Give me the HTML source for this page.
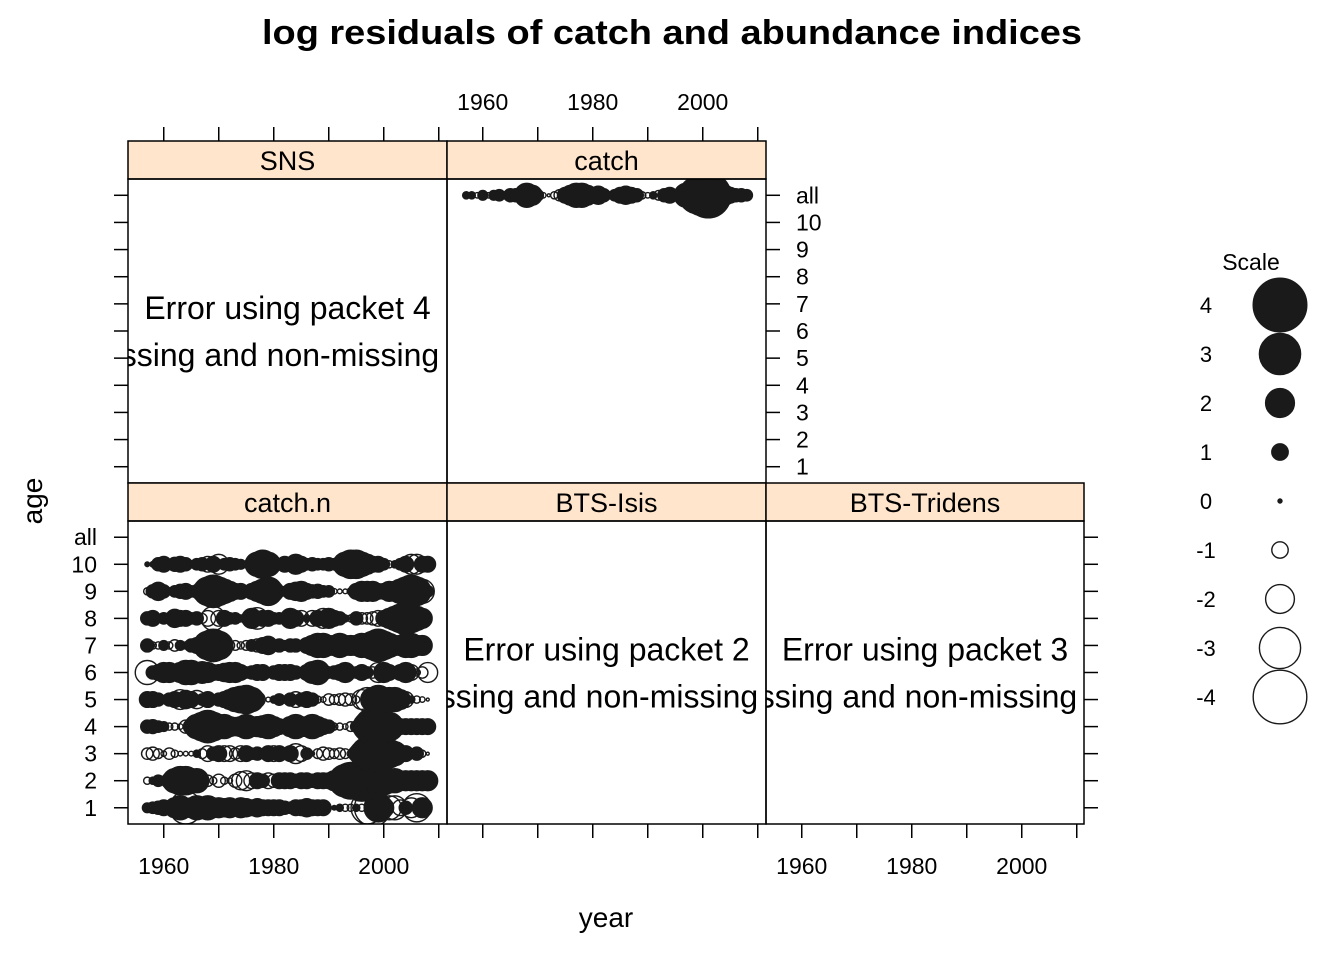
<!DOCTYPE html>
<html><head><meta charset="utf-8"><style>
body{margin:0;background:#fff}
svg{display:block;font-family:"Liberation Sans",Arial,sans-serif}
</style></head><body>
<svg id="chart" width="1344" height="960" viewBox="0 0 1344 960">
<defs>
<clipPath id="cpSNS"><rect x="128" y="179" width="319" height="304"/></clipPath>
<clipPath id="cpCatch"><rect x="447" y="179" width="319" height="304"/></clipPath>
<clipPath id="cpCN"><rect x="128" y="521" width="319" height="303"/></clipPath>
<clipPath id="cpIsis"><rect x="447" y="521" width="319" height="303"/></clipPath>
<clipPath id="cpTri"><rect x="766" y="521" width="318" height="303"/></clipPath>
</defs>
<text x="672" y="44" text-anchor="middle" font-size="34" font-weight="bold" textLength="820" lengthAdjust="spacingAndGlyphs">log residuals of catch and abundance indices</text>
<text x="606" y="927" text-anchor="middle" font-size="28">year</text>
<text x="0" y="0" transform="translate(42,501) rotate(-90)" text-anchor="middle" font-size="28">age</text>
<g id="panels"></g>
<g id="legend"></g>
</svg>
<script>
const years = [];
for (let y = 1957; y <= 2008; y++) years.push(y);
const yearTicks = [1960, 1970, 1980, 1990, 2000, 2010];
const yearTickLabels = [1960, 1980, 2000];
const ageCats = ['1','2','3','4','5','6','7','8','9','10','all'];
const legendValues = [4,3,2,1,0,-1,-2,-3,-4];

const catchAll = [0.5,0.5,-0.3,0.8,-0.3,0.8,1,-0.5,1.2,1.2,1.5,2.5,2,1,-0.3,0,-0.5,-1,1.5,2,2.5,2.5,2,1.5,1.8,1.2,-0.5,1,1.5,1.8,1.5,1.2,-0.5,-0.3,0.5,-0.8,1.2,1.5,-1,1.2,2.5,3,4,4.5,5,3.5,2,2,1.5,1.2,1.2,1];
const age1 = [0.8,1,1.2,1.5,-0.5,2,2.5,-3.5,2,2.5,-1.5,2.5,2,2,1.8,2,1.5,2,1.8,1.5,1.8,1.5,1.5,1.5,1.5,1.2,1,1.5,1.5,1.8,1.5,1.5,1.5,-0.3,0.2,0.5,-0.5,-0.5,0.5,-0.5,-3.5,-4,3,2,-2.5,-2.5,-1.5,1.2,-2,-3,2,-0.5];
const age2 = [-0.5,0.5,1,0.3,1.5,2.5,3,3,2.5,2.5,-0.3,-1,-0.5,-1.2,-0.5,-0.3,-1.2,-1.8,-2,-1.5,1.5,1.2,-1.5,-1.2,1.5,1.5,1.5,1.2,1.5,1.5,1.2,1.5,1.5,1.5,2,2.5,3.5,4,4,4.5,4,3.5,3,3,2.5,2.5,2,2,2,2,2,2];
const age3 = [-1,-1.2,-0.8,-0.3,-1,-0.5,-0.2,-0.2,-0.2,0.5,-0.8,-1.5,1.2,1.5,-1.5,-1.5,-1,-1.5,1.5,-1,1.2,-0.8,1.5,-1.5,1.5,1,1.5,-2,-1.5,1,0.2,-0.8,-1.2,-1,-0.8,-1,-0.8,-0.5,-1.5,2.5,3.5,4,4,3.5,3,2.5,1.5,1.5,-0.5,1.2,-0.5,0];
const age4 = [1.2,1.3,1,0.8,-0.5,-0.5,-0.3,-1.2,1.5,2.5,3,3.5,3,2.5,2.5,2,1.8,2,2.5,2,2,2.2,2.5,2,1.5,1,2,2.5,2,2,2.5,2,1.5,1.2,-0.5,-0.5,-0.3,-0.8,1,1.5,3,4,4,3.5,3,2,1.5,1.5,1.5,1.5,1.5,1.5];
const age5 = [1.5,1.5,1.2,-0.5,1.2,1.5,-2,1.8,1.5,-1.8,1,1.5,-0.5,1.2,1.5,2,2.5,2.8,3,2.5,-1.5,-0.3,-0.2,0.5,1,-0.5,1.2,-1.5,1.2,1.5,1.2,-0.5,-0.3,-1,-0.8,-1,-1.2,-1,-0.5,-2,-2.5,2.5,3,2.5,-2.5,2.5,2,-1.5,0.5,-0.5,-0.3,0];
const age6 = [-2.5,1.2,1.5,2,2,1.5,2,2.5,2.5,2,2.2,2,1.5,1.5,1.8,2,2,1.5,1,1.2,1.5,1.5,-0.5,1.2,1.5,1.5,1.5,1.2,-0.5,1.5,2.2,2.5,1.5,1,1.2,1.5,2,-0.5,-1,1.5,1,-1,-2,2,1.5,-0.5,1.5,2,-1.5,-0.5,-1,-2];
const age7 = [1.2,-0.5,-0.5,0.8,-0.5,-1,0.8,-0.5,1.2,1.5,2,3,3.5,3,-1,-0.8,-0.8,-0.5,-0.8,1,-1.2,1.5,1.8,-0.5,1.2,-0.8,1.2,1.2,-0.5,1.5,2,2.5,2.5,2,2,2.5,2,2,2,2.5,2.5,3,3.5,3,2.5,-2,2,2.5,2.5,2,2,-0.5];
const age8 = [1.2,1.5,-0.5,1,-0.5,1.8,-1.5,1.5,-1,1.2,-0.8,-1.5,-2.5,-1.5,1.5,1,1,0.5,-0.5,2,-2.2,1.5,1.5,1,1,-1,2,1.5,-1.5,0.5,-1.5,1.5,-2,2,-1.5,1.2,0.5,-0.5,1.2,-1,-1,-1.2,-1.5,1.5,-2,2.5,3,3.5,3,2.5,2,-0.5];
const age9 = [-0.5,1.2,1.8,1.2,-0.5,1,1.3,1.5,1,1.2,2,3,3.5,3,2.5,2,1.5,1.5,-0.5,1.5,2,2.5,3,2,-0.5,-0.8,1.5,1.8,2,1.5,1.2,1.3,1,1,-0.3,-0.2,-0.2,0.5,1.5,2,2,2,1.5,1.5,2,2,2.5,3,3.5,3,-2.5,1];
const age10 = [0.2,0.3,1.2,1.5,-0.5,1.3,1.5,1.2,-0.5,1,1.2,-1.5,1.5,-2,1,1.2,1,0.8,-0.5,1,2.5,3,2.5,1.5,-0.8,1.5,-1,2,1.5,1,1.2,1,1,1.2,1,1.5,2.5,3,3,2.5,2,1.5,1.5,1,-0.5,0.5,1,1.5,-2,-2,1.5,1.5];
const catchNRows = [age1,age2,age3,age4,age5,age6,age7,age8,age9,age10];

const NS = 'http://www.w3.org/2000/svg';
const root = document.getElementById('panels');
function mk(tag, attrs, parent){const e=document.createElementNS(NS,tag);for(const k in attrs)e.setAttribute(k,attrs[k]);(parent||root).appendChild(e);return e;}
function rad(v){return 2+6.2*Math.abs(v);}
function prad(v){return 1.5+4.2*Math.abs(v);}
function xScale(left){return yr=>left+(yr-1953.5)*5.5;}
function yScale(top,h){return k=>top+(11.6-k)/11.2*h;}

const panels = [
 {name:'SNS',x:128,y:141,w:319,clip:'cpSNS',err:'Error using packet 4',errX:87},
 {name:'catch',x:447,y:141,w:319,clip:'cpCatch'},
 {name:'catch.n',x:128,y:483,w:319,clip:'cpCN'},
 {name:'BTS-Isis',x:447,y:483,w:319,clip:'cpIsis',err:'Error using packet 2',errX:406},
 {name:'BTS-Tridens',x:766,y:483,w:318,clip:'cpTri',err:'Error using packet 3',errX:725}
];
const stripH=38;

panels.forEach(p=>{
  const g=mk('g',{});
  
  
  const top=p.y+stripH, h=(p.y<300?304:303);
  const strip=mk('rect',{x:p.x,y:p.y,width:p.w,height:stripH,fill:'#ffe5cc',stroke:'#000','stroke-width':1.5},g);
  
  
  const st=mk('text',{x:p.x+p.w/2,y:p.y+29,'text-anchor':'middle','font-size':27},g);
  st.textContent=p.name;
  
  
  const xs=xScale(p.x), ys=yScale(top,h);
  if(p.err){
    const cg=mk('g',{'clip-path':'url(#'+p.clip+')'},g);
    const cy=top+h/2;
    const t1=mk('text',{x:p.x+p.w/2,y:cy-12,'text-anchor':'middle','font-size':32},cg);
    t1.textContent=p.err;
    
    
    const t2=mk('text',{x:p.errX,y:cy+35,'font-size':32},cg);
    t2.textContent="missing and non-missing 'x' values";
    
    
  }
  const bg=mk('g',{'clip-path':'url(#'+p.clip+')'},g);
  function bubble(yr,k,v){
    const c=mk('circle',{cx:xs(yr),cy:ys(k),r:prad(v),fill:v>0?'#1a1a1a':'none',stroke:'#1a1a1a','stroke-width':1.4},bg);
    
    
  }
  if(p.name==='catch'){years.forEach((yr,i)=>bubble(yr,11,catchAll[i]));}
  if(p.name==='catch.n'){catchNRows.forEach((row,a)=>years.forEach((yr,i)=>bubble(yr,a+1,row[i])));}
  const fr=mk('rect',{x:p.x,y:top,width:p.w,height:h,fill:'none',stroke:'#000','stroke-width':1.5},g);
  
  
  const isTop=p.y<300;
  yearTicks.forEach(t=>{
    const x=xs(t); if(x>p.x+p.w) return;
    if(isTop) mk('line',{x1:x,x2:x,y1:p.y,y2:p.y-14,stroke:'#000','stroke-width':1.5},g);
    else mk('line',{x1:x,x2:x,y1:top+h,y2:top+h+14,stroke:'#000','stroke-width':1.5},g);
  });
  const xlab=(isTop&&p.name==='catch')||(!isTop&&p.name!=='BTS-Isis');
  if(xlab) yearTickLabels.forEach(t=>{
    const tx=mk('text',{x:xs(t),y:isTop?110:874,'text-anchor':'middle','font-size':23},g);
    tx.textContent=t;
    
    
  });
  const leftTicks=(p.name==='SNS'||p.name==='catch.n');
  const rightTicks=(p.name==='catch'||p.name==='BTS-Tridens');
  ageCats.forEach((c,i)=>{
    const y=ys(i+1);
    if(leftTicks) mk('line',{x1:p.x,x2:p.x-14,y1:y,y2:y,stroke:'#000','stroke-width':1.5},g);
    if(rightTicks) mk('line',{x1:p.x+p.w,x2:p.x+p.w+14,y1:y,y2:y,stroke:'#000','stroke-width':1.5},g);
    if(p.name==='catch.n'){
      const tl=mk('text',{x:97,y:y+8,'text-anchor':'end','font-size':23},g);
      tl.textContent=c;
      
      
    }
    if(p.name==='catch'){
      const tl=mk('text',{x:796,y:y+8,'font-size':23},g);
      tl.textContent=c;
      
      
    }
  });
});

const lg=document.getElementById('legend');
const lt=mk('text',{x:1251,y:270,'text-anchor':'middle','font-size':23},lg);
lt.textContent='Scale';


legendValues.forEach((v,i)=>{
  const y=305+i*49;
  const tx=mk('text',{x:1206,y:y+8,'text-anchor':'middle','font-size':22},lg);
  tx.textContent=v;
  
  
  const c=mk('circle',{cx:1280,cy:y,r:rad(v),fill:v>=0?'#1a1a1a':'none',stroke:'#1a1a1a','stroke-width':1.4},lg);
  
  
});
</script>
</body></html>
